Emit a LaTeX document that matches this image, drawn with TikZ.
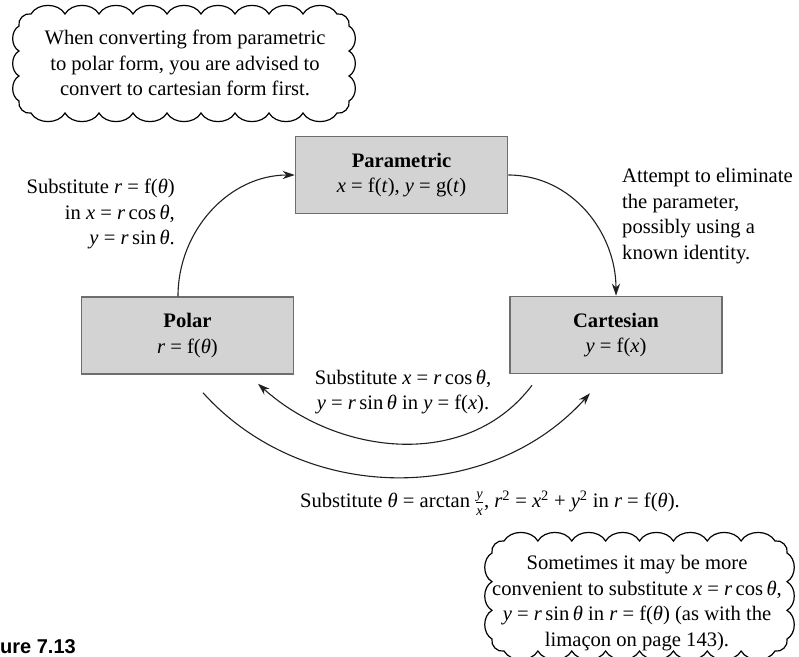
\documentclass[tikz,border=0pt]{standalone}
\usepackage{amsmath}
\usepackage{fontspec}
\setmainfont{Liberation Serif}
\newfontfamily\figfont{Liberation Sans}
\usetikzlibrary{arrows.meta}

% italic variable in running text
\newcommand\mi[1]{\textit{#1}}
% small stacked y over x
\newcommand\yoverx{\ensuremath{\frac{\text{\mi{y}}}{\text{\mi{x}}}}}

\definecolor{boxfill}{HTML}{D3D3D3}
\definecolor{boxline}{HTML}{6E6E6E}
\definecolor{ink}{HTML}{202020}

\tikzset{
  txt/.style={font=\fontsize{20.6}{25.5}\selectfont, text=black, inner sep=0pt},
  formbox/.style={txt, draw=boxline, fill=boxfill, line width=1.5pt,
    minimum width=212pt, minimum height=77pt, align=center},
  flow/.style={draw=ink, line width=1.1pt, -{Stealth[length=12pt,width=8pt]}},
  cloudline/.style={draw=black, line width=1.2pt, fill=white},
}

\begin{document}
\begin{tikzpicture}[x=1pt,y=-1pt]
\useasboundingbox (0,0) rectangle (799,656);

% ---- advice cloud, top left
\draw[cloudline] (31,14)
  \foreach \i in {1,...,9} { to[bend left=60] ({31+34*\i},14) }
  to[bend left=60] (349,26)
  \foreach \i in {1,2,3} { to[bend left=60] (349,{26+25*\i}) }
  to[bend left=60] (337,113)
  \foreach \i in {1,...,9} { to[bend left=60] ({337-34*\i},113) }
  to[bend left=60] (19,101)
  \foreach \i in {1,2,3} { to[bend left=60] (19,{101-25*\i}) }
  to[bend left=60] (31,14);
\node[txt, align=center] (tipA) at (185,63)
  {When converting from parametric\\to polar form, you are advised to\\convert to cartesian form first.};

% ---- the three forms
\node[formbox] (param) at (401.5,175)
  {\textbf{Parametric}\\\mi{x} = f(\mi{t}), \mi{y} = g(\mi{t})};
\node[formbox] (polar) at (187.5,335.5)
  {\textbf{Polar}\\\mi{r} = f(\mi{θ})};
\node[formbox] (cart) at (616,335)
  {\textbf{Cartesian}\\\mi{y} = f(\mi{x})};

% ---- connector end points
\coordinate (polarTop) at ([xshift=-9.5pt]polar.north);
\coordinate (cartBotIn) at ([xshift=-84pt,yshift=-11pt]cart.south);
\coordinate (polarBotIn) at ([xshift=70.5pt,yshift=-9pt]polar.south);
\coordinate (polarBotOut) at ([xshift=15.5pt,yshift=-18pt]polar.south);
\coordinate (cartBotOut) at ([xshift=-26pt,yshift=-19pt]cart.south);

% ---- connectors
\draw[flow] (polarTop) to[out=90,in=180] (param.west);
\draw[flow] (param.east) to[out=0,in=90] (cart.north);
\draw[flow] (cartBotIn) to[out=233,in=-42] (polarBotIn);
\draw[flow] (polarBotOut) to[out=-48,in=228] (cartBotOut);

% ---- connector labels
\node[txt, align=right, anchor=east] (lblPolarParam) at (175,214)
  {Substitute \mi{r} = f(\mi{θ})\\in \mi{x} = \mi{r}\,cos\,\mi{θ},\\\mi{y} = \mi{r}\,sin\,\mi{θ}.};
\node[txt, align=left, anchor=west] (lblParamCart) at (622,216)
  {Attempt to eliminate\\the parameter,\\possibly using a\\known identity.};
\node[txt, align=center] (lblCartPolar) at (403,392)
  {Substitute \mi{x} = \mi{r}\,cos\,\mi{θ},\\\mi{y} = \mi{r}\,sin\,\mi{θ} in \mi{y} = f(\mi{x}).};
\node[txt] (lblPolarCart) at (490,503)
  {Substitute \mi{θ} = arctan \yoverx, \mi{r}\textsuperscript{2} = \mi{x}\textsuperscript{2} + \mi{y}\textsuperscript{2} in \mi{r} = f(\mi{θ}).};

% ---- second cloud, bottom right (runs off the page)
\begin{scope}
\clip (0,0) rectangle (799,656);
\draw[cloudline] (504,541)
  \foreach \i in {1,...,8} { to[bend left=60] ({504+33.875*\i},541) }
  to[bend left=60] (787,553)
  \foreach \i in {1,2,3} { to[bend left=60] (787,{553+28.67*\i}) }
  to[bend left=60] (775,651)
  \foreach \i in {1,...,8} { to[bend left=60] ({775-33.875*\i},651) }
  to[bend left=60] (492,639)
  \foreach \i in {1,2,3} { to[bend left=60] (492,{639-28.67*\i}) }
  to[bend left=60] (504,541);
\end{scope}
\node[txt, align=center] (tipB) at (637,603)
  {Sometimes it may be more\\convenient to substitute \mi{x} = \mi{r}\,cos\,\mi{θ},\\\mi{y} = \mi{r}\,sin\,\mi{θ} in \mi{r} = f(\mi{θ}) (as with the\\limaçon on page 143).};

% ---- figure number
\node[inner sep=0pt, anchor=base west, font=\figfont\bfseries\fontsize{20}{20}\selectfont]
  (figno) at (0,653) {ure 7.13};
\end{tikzpicture}
\end{document}
